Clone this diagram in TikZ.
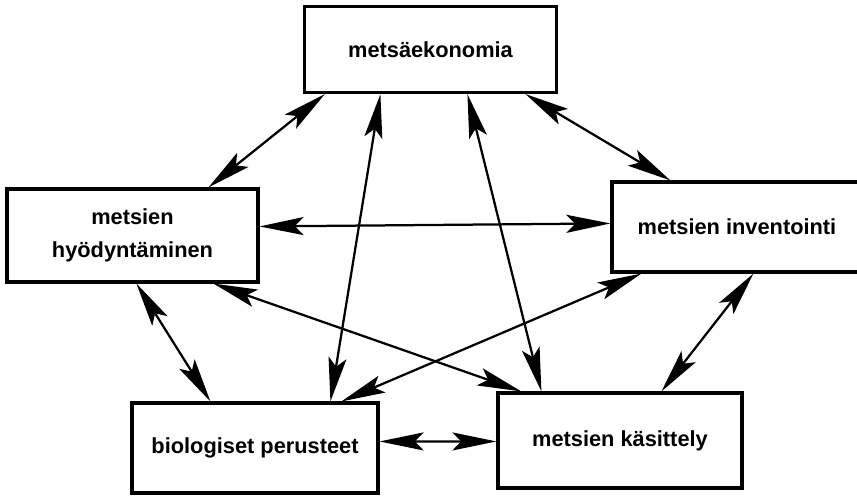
\documentclass[tikz,border=0pt]{standalone}
\usepackage{fontspec}
\setmainfont{Liberation Sans}
\usetikzlibrary{arrows.meta,calc}
\tikzset{>={Stealth[length=1.1cm,width=0.45cm,inset=0.22cm]}}

\begin{document}
\begin{tikzpicture}[x=0.025cm,y=-0.025cm,
    box/.style={draw,line width=2.2pt,font=\bfseries\fontsize{15.5}{23}\selectfont,align=center,inner sep=0pt},
    link/.style={<->,line width=1.6pt}]
    \useasboundingbox (0,0) rectangle (857,495);
    \clip (0,0) rectangle (857,495);
    % the five fields
    \node[box,minimum width=6.3cm,minimum height=2.15cm] (eko) at (430.5,49.5) {metsäekonomia};
    \node[box,minimum width=6.275cm,minimum height=2.325cm] (hyod) at (132.5,235.5) {metsien\\hyödyntäminen};
    \node[box,minimum width=6.25cm,minimum height=2.25cm] (inv) at (737,227) {metsien inventointi};
    \node[box,minimum width=6.15cm,minimum height=2.25cm] (bio) at (255,448) {biologiset perusteet};
    \node[box,minimum width=6.1cm,minimum height=2.375cm] (kas) at (620,440.5) {metsien käsittely};
    % links between them
    \draw[link] ($(eko.south west)+(22,0)$) -- ($(hyod.north west)+(203,0)$);
    \draw[link] ($(eko.south west)+(77.5,0)$) -- ($(bio.north west)+(200,0)$);
    \draw[link] ($(eko.south west)+(164.5,0)$) -- ($(kas.north west)+(45,0)$);
    \draw[link] ($(eko.south west)+(222.5,0)$) -- ($(inv.north west)+(60,0)$);
    \draw[link] ($(hyod.north east)+(0,39)$) -- ($(inv.north west)+(0,43)$);
    \draw[link] ($(hyod.south west)+(208,0)$) -- ($(kas.north west)+(25,0)$);
    \draw[link] ($(inv.south west)+(31,0)$) -- ($(bio.north west)+(211,0)$);
    \draw[link] ($(hyod.south west)+(131,0)$) -- ($(bio.north west)+(80,0)$);
    \draw[link] ($(inv.south west)+(143,0)$) -- ($(kas.north west)+(165,0)$);
    \draw[link] ($(bio.north east)+(0,40)$) -- ($(kas.north west)+(0,50)$);
\end{tikzpicture}
\end{document}
